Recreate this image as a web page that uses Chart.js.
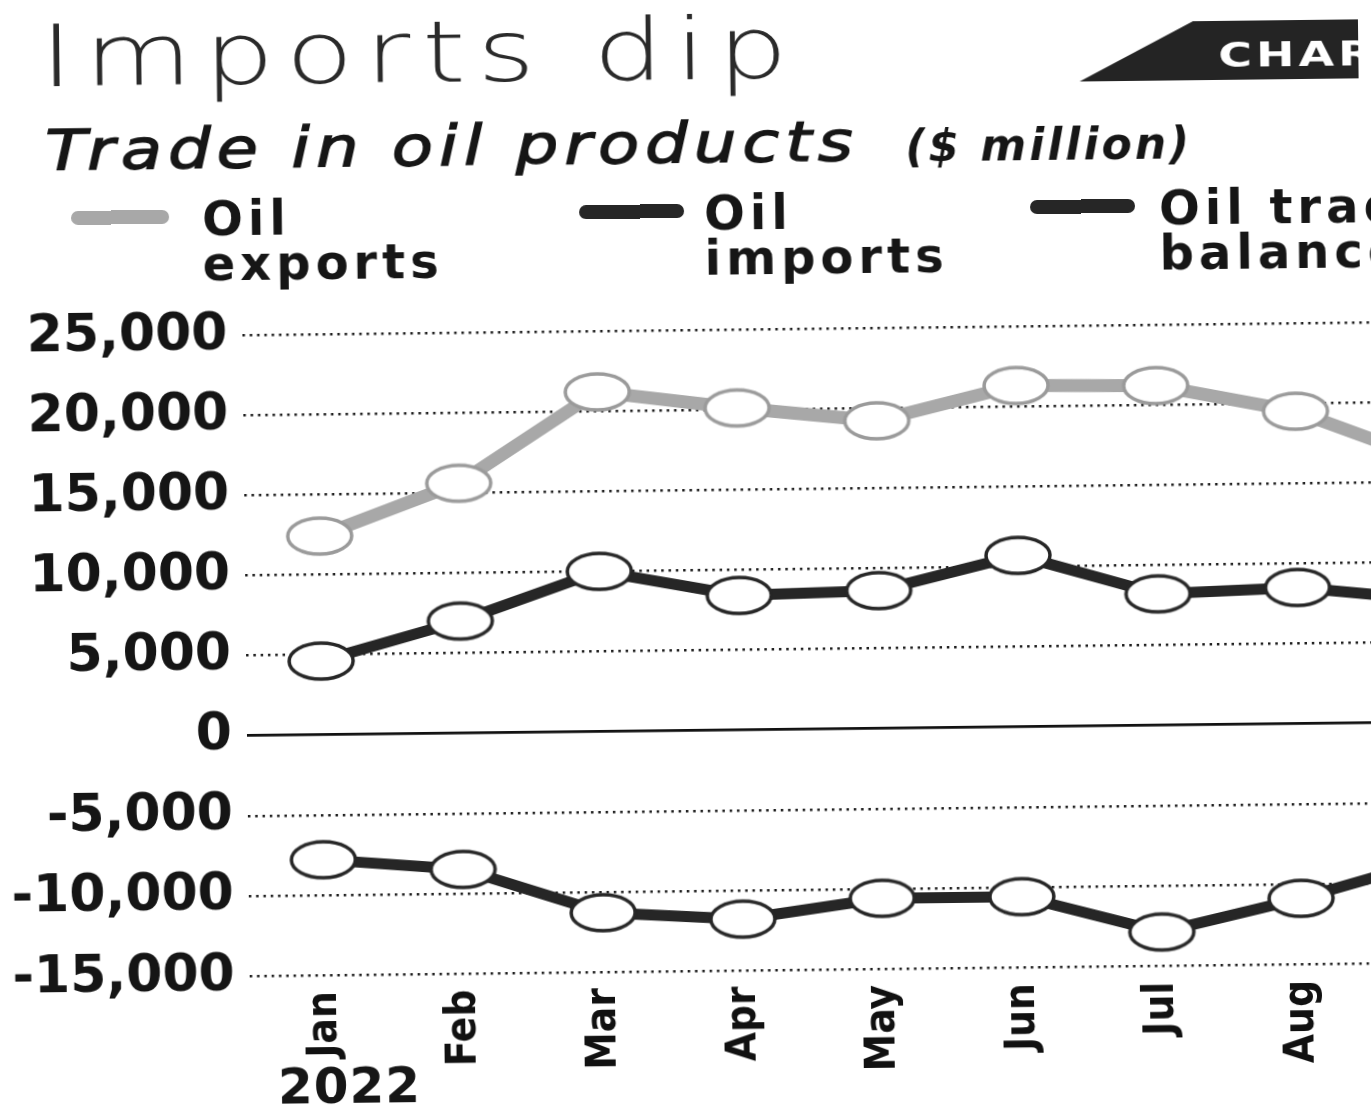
<!DOCTYPE html>
<html>
<head>
<meta charset="utf-8">
<script src="https://cdn.jsdelivr.net/npm/chart.js@4.4.0/dist/chart.umd.min.js"></script>
<style>
    html, body { margin: 0; padding: 0; background: #fff; overflow: hidden; width: 1371px; height: 1110px; }
    /* the scanned page sits slightly tilted */
    #page { position: absolute; left: 0; top: 0; width: 1600px; height: 1110px;
            transform: rotate(-0.65deg); transform-origin: 247px 737px; color: #161616; }
    #page div { position: absolute; white-space: nowrap; line-height: 1; }
    .title { left: 48px; top: 12px; font: 200 85px 'DejaVu Sans'; letter-spacing: 9px;
             transform: scaleX(1.3); transform-origin: left top; color: #2a2a2a; }
    .sub { left: 52px; top: 120px; font: italic 400 56px 'DejaVu Sans'; letter-spacing: 5px;
           -webkit-text-stroke: 1.4px #161616; transform: scaleX(1.2); transform-origin: left top; }
    .unit { left: 912px; top: 132px; font: italic bold 44px 'DejaVu Sans'; letter-spacing: 3px; }
    .badge { left: 1087px; top: 32px; width: 279px; height: 59px; background: #242424;
             clip-path: polygon(114px 0, 100% 0, 100% 100%, 0 100%); }
    #page .badge div { left: 139px; top: 14px; font: bold 34px 'DejaVu Sans'; color: #fff; letter-spacing: 3px;
             transform: scaleX(1.35); transform-origin: left top; }
    .swatch { top: 209px; height: 14px; border-radius: 7px; }
    .legend { top: 196px; font: bold 48px 'DejaVu Sans'; letter-spacing: 5px; }
    #page div.legend { line-height: 45px; }
    .year { left: 274px; top: 1062px; font: bold 50px 'DejaVu Sans'; letter-spacing: 1px; }
    canvas { position: absolute; left: 0; top: 0; }
</style>
</head>
<body>
<div id="page">
    <canvas id="trade" width="1600" height="1110"></canvas>
    <div class="title">Imports dip</div>
    <div class="badge"><div>CHART</div></div>
    <div class="sub">Trade in oil products</div>
    <div class="unit">($ million)</div>
    <div class="swatch" style="left:77px;width:98px;background:#a8a8a8"></div>
    <div class="legend" style="left:208px">Oil<br>exports</div>
    <div class="swatch" style="left:585px;width:105px;background:#262626"></div>
    <div class="legend" style="left:710px">Oil<br>imports</div>
    <div class="swatch" style="left:1036px;width:105px;background:#262626"></div>
    <div class="legend" style="left:1165px">Oil trade<br>balance</div>
    <div class="year">2022</div>
</div>
<script>
const months = ['Jan', 'Feb', 'Mar', 'Apr', 'May', 'Jun', 'Jul', 'Aug', 'Sep'];
const oilExports = [12400, 15600, 21200, 20100, 19200, 21300, 21200, 19500, 16200];
const oilImports = [4600, 7000, 10000, 8400, 8600, 10700, 8200, 8500, 7600];
const oilBalance = [-7800, -8500, -11300, -11800, -10600, -10600, -12900, -10900, -8500];

const GREY = '#a8a8a8';
const DARK = '#262626';

function ellipseMarker(stroke) {
    const c = document.createElement('canvas');
    c.width = 72;
    c.height = 44;
    const g = c.getContext('2d');
    g.beginPath();
    g.ellipse(36, 22, 32, 18, 0, 0, Math.PI * 2);
    g.fillStyle = '#fff';
    g.fill();
    g.lineWidth = 3.5;
    g.strokeStyle = stroke;
    g.stroke();
    return c;
}

function series(values, color, marker, width) {
    return {
        data: values.map((v, i) => ({ x: i, y: v })),
        borderColor: color,
        borderWidth: width,
        borderJoinStyle: 'round',
        tension: 0,
        pointStyle: marker,
        pointRadius: 20,
        pointHoverRadius: 20,
    };
}

const tradeChart = new Chart(document.getElementById('trade'), {
    type: 'line',
    data: {
        datasets: [
            series(oilExports, GREY, ellipseMarker('#9a9a9a'), 13),
            series(oilImports, DARK, ellipseMarker(DARK), 11),
            series(oilBalance, DARK, ellipseMarker(DARK), 11),
        ]
    },
    options: {
        responsive: false,
        animation: false,
        devicePixelRatio: 1,
        layout: { autoPadding: false, padding: { top: 335, right: 0, bottom: 0, left: 0 } },
        plugins: {
            legend: { display: false },
            tooltip: { enabled: false },
        },
        scales: {
            x: {
                type: 'linear',
                min: -0.537,
                max: 9.155,
                afterFit: (s) => { s.height = 134; s.paddingLeft = 0; s.paddingRight = 0; },
                grid: { display: false, drawTicks: false },
                border: { display: false },
                ticks: {
                    stepSize: 1,
                    includeBounds: false,
                    autoSkip: false,
                    minRotation: 90,
                    maxRotation: 90,
                    padding: 16,
                    color: '#111',
                    font: { family: "'Liberation Sans Narrow', 'DejaVu Sans Condensed', sans-serif", size: 42, weight: 'bold' },
                    callback: (v) => months[v] ?? '',
                },
            },
            y: {
                min: -15000,
                max: 25000,
                afterFit: (s) => { s.width = 247; },
                grid: {
                    drawTicks: false,
                    color: (ctx) => ctx.tick.value === 0 ? '#111' : '#1e1e1e',
                    lineWidth: (ctx) => ctx.tick.value === 0 ? 2.8 : 2.4,
                },
                border: {
                    display: false,
                    dash: (ctx) => ctx.tick.value === 0 ? [] : [2.5, 4.8],
                },
                ticks: {
                    stepSize: 5000,
                    padding: 15,
                    color: '#151515',
                    font: { family: "'DejaVu Sans', sans-serif", size: 52, weight: 'bold' },
                    callback: (v) => v.toLocaleString('en-US'),
                },
            },
        },
    }
});
</script>
</body>
</html>
